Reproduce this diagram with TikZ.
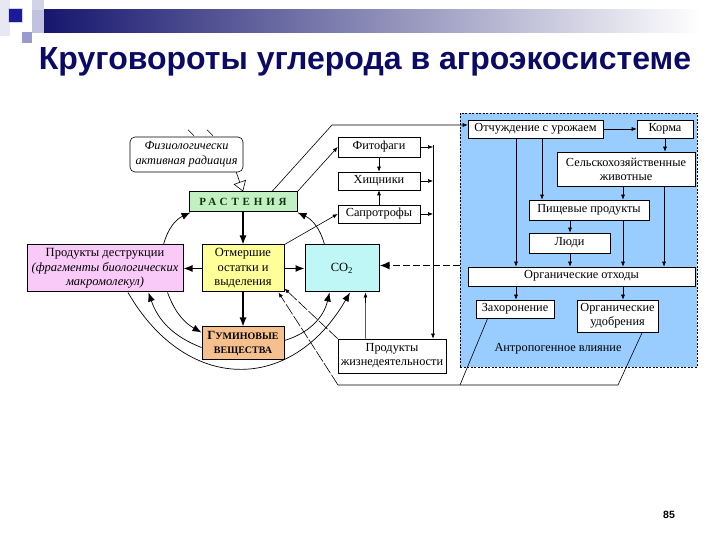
\documentclass[tikz,border=0pt]{standalone}
\usepackage{fontspec}
\setmainfont{Liberation Serif}
\newfontfamily\headfont{Liberation Sans}
\usepackage{tikz}
\usetikzlibrary{arrows.meta,positioning,calc}
\definecolor{TitleNavy}{HTML}{0B0B66}
\definecolor{HeadBar}{HTML}{16166E}
\definecolor{HeadDark}{HTML}{1A1A9A}
\definecolor{HeadMid}{HTML}{9A9ACC}
\definecolor{HeadPale}{HTML}{D2D2E8}
\definecolor{HeadLight}{HTML}{E8E8F3}
\definecolor{RegionBlue}{HTML}{99CCFF}
\definecolor{PlantGreen}{HTML}{C2F0C2}
\definecolor{DestrPink}{HTML}{F9C9F7}
\definecolor{DeadYellow}{HTML}{FFFF99}
\definecolor{GasCyan}{HTML}{BFF7F7}
\definecolor{HumOrange}{HTML}{F6BF8E}
\definecolor{PlantText}{HTML}{143214}
\newcommand\capsmall{\fontsize{10}{12}\selectfont}

\begin{document}
\begin{tikzpicture}[
  x=1pt,y=1pt,
  box/.style={draw,line width=0.6pt,fill=white,inner sep=1pt,align=center,font=\fontsize{12.3}{14}\selectfont},
  one/.style={align=none,text height=7pt,text depth=2pt},
  cbox/.style={draw,line width=1pt,inner sep=1pt,align=center,font=\fontsize{12.5}{14.5}\selectfont},
  flow/.style={-{Latex[length=9pt,width=7pt]},line width=1.2pt},
  bow/.style={-{Latex[length=9pt,width=7pt]},line width=0.7pt},
  link/.style={-{Latex[length=5pt,width=4pt]},line width=0.6pt},
  back/.style={link,dash pattern=on 12pt off 2pt}
]
\useasboundingbox (0,0) rectangle (720,540);
\fill[HeadLight] (0,540) rectangle (10,504);
\fill[HeadPale] (32,540) rectangle (44,530);
\fill[HeadMid] (22,508) rectangle (32,497);
\fill[HeadPale!70!HeadMid] (32,530) rectangle (44,507);
\shade[left color=HeadBar,right color=white] (44,530) rectangle (700,507);
\filldraw[fill=HeadDark,draw=HeadPale,line width=0.8pt] (8,532) rectangle (22,518);
\node[font=\headfont\bfseries\fontsize{32}{38}\selectfont,text=TitleNavy] (title) at (365,478) {Круговороты углерода в агроэкосистеме};
\node[font=\headfont\bfseries\fontsize{10.5}{12}\selectfont] (pnum) at (669,25) {85};

\node[draw,line width=0.5pt,dash pattern=on 2pt off 1.5pt,fill=RegionBlue,minimum width=237,minimum height=254] (region) at (578.5,300) {};

\node[box,rounded corners=5pt,font=\itshape\fontsize{12.3}{14.5}\selectfont,minimum width=113,minimum height=35] (phar) at (186.5,385.5) {Физиологически\\активная радиация};
\node[cbox,fill=PlantGreen,text=PlantText,minimum width=108,minimum height=20,font=\bfseries\fontsize{11}{12}\selectfont\addfontfeatures{LetterSpace=35}] (rast) at (243,338) {РАСТЕНИЯ};
\node[box,one,minimum width=82,minimum height=20] (fito) at (379,393) {Фитофаги};
\node[box,one,minimum width=82,minimum height=18] (hish) at (379,359) {Хищники};
\node[box,one,minimum width=82,minimum height=18] (sapr) at (379,326) {Сапротрофы};
\node[cbox,fill=DestrPink,minimum width=156,minimum height=47] (destr) at (105,271.5) {Продукты деструкции\\\textit{(фрагменты биологических}\\\textit{макромолекул)}};
\node[cbox,fill=DeadYellow,minimum width=82,minimum height=47] (otm) at (243,271.5) {Отмершие\\остатки и\\выделения};
\node[cbox,fill=GasCyan,minimum width=74,minimum height=47] (co2) at (342,271.5) {CO\textsubscript{2}};
\node[cbox,fill=HumOrange,minimum width=82,minimum height=33,font=\bfseries\fontsize{12.5}{14}\selectfont] (gum) at (243,196.5) {Г{\capsmall УМИНОВЫЕ}\\{\capsmall ВЕЩЕСТВА}};
\node[box,minimum width=108,minimum height=34] (zhiz) at (392,184) {Продукты\\жизнедеятельности};

\node[box,one,minimum width=135,minimum height=18] (otch) at (535.5,411) {Отчуждение с урожаем};
\node[box,one,minimum width=56,minimum height=18] (korm) at (665,411) {Корма};
\node[box,minimum width=138,minimum height=34] (selh) at (626,371) {Сельскохозяйственные\\животные};
\node[box,one,minimum width=120,minimum height=20] (pish) at (589,330) {Пищевые продукты};
\node[box,one,minimum width=81,minimum height=20] (lyud) at (569.5,297) {Люди};
\node[box,one,minimum width=227,minimum height=19] (orgo) at (581.5,263.5) {Органические отходы};
\node[box,one,minimum width=78,minimum height=18] (zahor) at (515,231) {Захоронение};
\node[box,minimum width=81,minimum height=32] (udob) at (617.5,224) {Органические\\удобрения};
\node[font=\fontsize{12.3}{14}\selectfont] (antr) at (558,191) {Антропогенное влияние};

\foreach \dx in {0,19}{\draw[line width=0.6pt] ($(phar.north)+(1.5+\dx,7)$) -- ++(6,-6);}
\draw[-{Triangle[open,length=10pt,width=13pt]},line width=0.6pt] ($(phar.south east)+(-7,0)$) -- (rast.north);

\coordinate (kink) at (332,415);
\draw[link] ($(rast.north)+(29,0)$) -- (kink) -- (kink -| otch.west);
\draw[link] (rast.north east) -- (fito.west);
\draw[link] (otm.north east) -- (sapr.west);
\draw[link] (fito) -- (hish);
\draw[link] (sapr) -- (hish);
\coordinate (bus) at (433,395);
\foreach \n in {fito,hish,sapr}{\draw[link] (\n.east) -- (\n.east -| bus);}
\draw[link] (bus) -- (bus |- zhiz.north);

\draw[flow] (rast.south) -- (otm.north);
\draw[flow] (otm) -- (destr);
\draw[flow] (otm) -- (co2);
\draw[flow] (otm) -- (gum);
\draw[-{Latex[length=10pt,width=8pt]},line width=1.6pt,dash pattern=on 7pt off 3pt] ($(co2.east -| region.west)+(0,3)$) -- ($(co2.east)+(0,3)$);

\draw[bow] ($(destr.north east)+(-20,0)$) to[bend left=25] ($(rast.south west)+(2,0)$);
\draw[bow] ($(co2.north west)+(20,0)$) to[bend right=25] (rast.south east);
\draw[bow] ($(destr.south east)+(-16,0)$) to[bend right=20] ($(gum.north west)+(0,-6)$);
\draw[bow] ($(gum.west)+(0,-4)$) to[bend left=25] ($(destr.south east)+(-35,0)$);
\draw[bow] ($(destr.south)+(23,0)$) to[out=-60,in=-120,looseness=1.35] ($(co2.south)+(8,0)$);
\draw[bow] ($(gum.east)+(0,3)$) to[bend right=30] ($(co2.south west)+(25,0)$);
\draw[link] ($(zhiz.north west)+(28,0)$) -- ($(co2.south west)+(61,0)$);
\draw[back] (zhiz.north west) -- ($(otm.south east)+(0,4)$);

\coordinate (retA) at (460,155);
\coordinate (retB) at (338,155);
\coordinate (retC) at (618,155);
\draw[line width=0.6pt] ($(zahor.south west)+(12,0)$) -- (retA) -- (retB);
\draw[line width=0.6pt] ($(udob.south east)+(-16,0)$) -- (retC) -- (retA);
\draw[back] (retB) -- ($(otm.south east)+(-6,0)$);

\draw[link] (otch) -- (korm);
\foreach \x/\a/\b in {665/korm/selh,542/otch/pish,623/selh/pish,516/otch/orgo,570/pish/lyud,570/lyud/orgo,623/pish/orgo,664/selh/orgo,516/orgo/zahor,623/orgo/udob}
  {\draw[link] (\x,0 |- \a.south) -- (\x,0 |- \b.north);}
\end{tikzpicture}
\end{document}
